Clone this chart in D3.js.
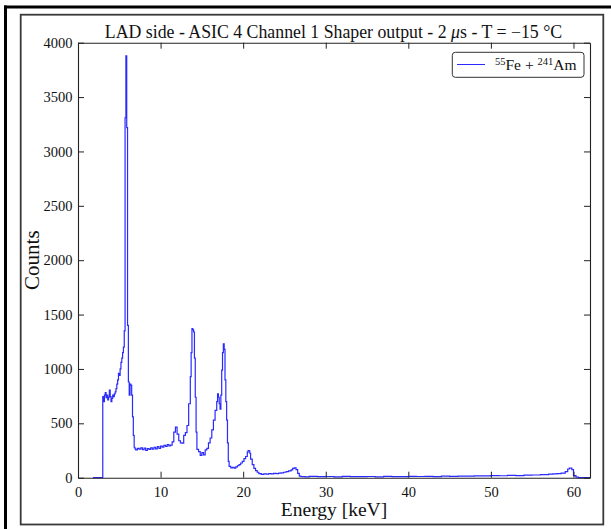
<!DOCTYPE html>
<html>
<head>
<meta charset="utf-8">
<script src="https://cdn.jsdelivr.net/npm/d3@7"></script>
<style>
  html, body { margin: 0; padding: 0; background: #fff; }
  svg { display: block; font-family: "Liberation Serif", "DejaVu Serif", serif; }
</style>
</head>
<body>
<svg id="chart" width="611" height="529"></svg>
<script>
// spectrum: bin start energy (keV) and counts
const energy = [
  1.8, 2.9, 3.0, 3.1, 3.2, 3.3, 3.4, 3.5, 3.6, 3.7, 3.8, 3.9, 4.0, 4.1, 4.2, 4.3, 4.4, 4.5, 4.6, 4.7,
  4.8, 4.9, 5.0, 5.1, 5.2, 5.3, 5.4, 5.5, 5.6, 5.7, 5.8, 5.9, 6.0, 6.1, 6.2, 6.3, 6.4, 6.5, 6.6, 6.7,
  6.8, 6.9, 7.0, 7.2, 7.4, 7.6, 7.8, 8.0, 8.2, 8.4, 8.6, 8.8, 9.0, 9.2, 9.4, 9.6, 9.8, 10.0, 10.2, 10.4,
  10.6, 10.8, 11.0, 11.2, 11.4, 11.6, 11.8, 12.0, 12.2, 12.4, 12.6, 12.8, 13.0, 13.2, 13.4, 13.6, 13.7, 13.8, 13.9, 14.0,
  14.1, 14.2, 14.3, 14.4, 14.6, 14.8, 15.0, 15.2, 15.4, 15.6, 15.8, 16.0, 16.2, 16.4, 16.6, 16.8, 16.9, 17.0, 17.1, 17.2,
  17.3, 17.4, 17.5, 17.6, 17.7, 17.8, 17.9, 18.0, 18.1, 18.2, 18.3, 18.5, 18.7, 18.9, 19.1, 19.3, 19.5, 19.7, 19.9, 20.1,
  20.3, 20.5, 20.6, 20.7, 20.8, 20.9, 21.1, 21.3, 21.5, 21.7, 21.9, 22.2, 22.5, 22.8, 23.1, 23.4, 23.7, 24.0, 24.3, 24.6,
  24.9, 25.2, 25.5, 25.8, 26.0, 26.2, 26.4, 26.6, 26.8, 27.0, 27.5, 28, 29, 30, 31, 32, 33, 34, 35, 36,
  37, 38, 39, 40, 41, 42, 43, 44, 45, 46, 47, 48, 49, 50, 51, 52, 53, 54, 55, 56,
  57, 57.5, 58.0, 58.5, 59.0, 59.3, 59.5, 59.8, 60.0, 60.3, 60.6, 62
];
const counts = [
  0, 0, 745, 700, 760, 782, 735, 760, 715, 740, 805, 745, 700, 730, 760, 745, 770, 790, 820, 860,
  900, 960, 940, 1000, 1060, 1100, 1150, 1200, 1350, 3310, 3880, 3220, 1400, 880, 760, 860, 850, 760, 560, 390,
  280, 265, 255, 270, 262, 275, 258, 272, 250, 268, 260, 275, 262, 280, 265, 285, 270, 290, 282, 298,
  288, 305, 292, 300, 330, 420, 465, 400, 340, 320, 318, 390, 415, 480, 680, 930, 1150, 1370, 1360, 1340,
  1100, 740, 420, 260, 240, 205, 230, 210, 255, 270, 320, 365, 440, 530, 620, 700, 770, 740, 680, 630,
  760, 990, 1150, 1230, 1180, 900, 700, 530, 320, 150, 105, 90, 95, 88, 100, 110, 120, 135, 150, 175,
  195, 235, 250, 248, 225, 170, 120, 85, 65, 50, 38, 30, 35, 33, 38, 36, 40, 38, 42, 45,
  50, 55, 62, 72, 85, 90, 75, 40, 15, 10, 8, 12, 9, 11, 8, 12, 10, 9, 11, 8,
  12, 10, 9, 12, 11, 13, 10, 14, 12, 15, 14, 17, 16, 19, 18, 21, 20, 23, 25, 28,
  32, 35, 38, 42, 55, 80, 88, 75, 20, 5, 0, 0
];
const xTicks = [0, 10, 20, 30, 40, 50, 60];
const yTicks = [0, 500, 1000, 1500, 2000, 2500, 3000, 3500, 4000];

const svg = d3.select("#chart");
const W = 611, H = 529;
const m = { left: 78, right: 590, top: 42.7, bottom: 477.7 };

// page frames (cropped figure look)
svg.append("rect")
  .attr("x", 20.7).attr("y", 14.7)
  .attr("width", 603.3 - 20.7).attr("height", 524.5 - 14.7)
  .attr("fill", "none").attr("stroke", "#3a3a3a").attr("stroke-width", 1.8);
svg.append("line").attr("x1", 4).attr("x2", W).attr("y1", 7).attr("y2", 7)
  .attr("stroke", "#000").attr("stroke-width", 3);
svg.append("line").attr("x1", 5.5).attr("x2", 5.5).attr("y1", 5.5).attr("y2", H)
  .attr("stroke", "#000").attr("stroke-width", 3);

const x = d3.scaleLinear().domain([0, 62]).range([m.left, m.right]);
const y = d3.scaleLinear().domain([0, 4000]).range([m.bottom, m.top]);

const data = energy.map((e, i) => ({ e, c: counts[i] }));

const line = d3.line()
  .x(d => x(d.e))
  .y(d => y(d.c))
  .curve(d3.curveStepAfter);

svg.append("path")
  .datum(data)
  .attr("fill", "none")
  .attr("stroke", "#2a2aff")
  .attr("stroke-width", 1.2)
  .attr("d", line);

// axes with inward ticks on all four sides
const tickLen = 6;
const axisColor = "#222";
const fmt = d3.format("d");
const gBottom = svg.append("g").attr("transform", `translate(0,${m.bottom})`)
  .call(d3.axisBottom(x).tickValues(xTicks).tickFormat(fmt).tickSizeInner(-tickLen).tickSizeOuter(0).tickPadding(8));
const gTop = svg.append("g").attr("transform", `translate(0,${m.top})`)
  .call(d3.axisTop(x).tickValues(xTicks).tickSizeInner(-tickLen).tickSizeOuter(0).tickFormat(""));
const gLeft = svg.append("g").attr("transform", `translate(${m.left},0)`)
  .call(d3.axisLeft(y).tickValues(yTicks).tickFormat(fmt).tickSizeInner(-tickLen).tickSizeOuter(0).tickPadding(5.5));
const gRight = svg.append("g").attr("transform", `translate(${m.right},0)`)
  .call(d3.axisRight(y).tickValues(yTicks).tickSizeInner(-tickLen).tickSizeOuter(0).tickFormat(""));

[gBottom, gTop, gLeft, gRight].forEach(g => {
  g.select(".domain").attr("stroke", axisColor).attr("stroke-width", 1.1);
  g.selectAll(".tick line").attr("stroke", axisColor).attr("stroke-width", 1);
  g.selectAll(".tick text")
    .attr("font-family", "Liberation Serif, serif")
    .attr("font-size", 14.5)
    .attr("fill", "#111");
});
gBottom.selectAll(".tick text").attr("dy", "0.75em");

// title
const title = svg.append("text")
  .attr("x", (m.left + m.right) / 2 - 0.5)
  .attr("y", 38)
  .attr("text-anchor", "middle")
  .attr("font-size", 17.8)
  .attr("fill", "#111");
title.append("tspan").text("LAD side - ASIC 4 Channel 1 Shaper output - 2 ");
title.append("tspan").attr("font-style", "italic").text("μ");
title.append("tspan").text("s - T = \u221215 \u00B0C");

// axis labels
svg.append("text")
  .attr("x", (m.left + m.right) / 2)
  .attr("y", 516)
  .attr("text-anchor", "middle")
  .attr("font-size", 19.5)
  .attr("fill", "#111")
  .text("Energy [keV]");

svg.append("text")
  .attr("transform", `translate(39,${(m.top + m.bottom) / 2}) rotate(-90)`)
  .attr("text-anchor", "middle")
  .attr("font-size", 21)
  .attr("fill", "#111")
  .text("Counts");

// legend
const lg = svg.append("g");
lg.append("rect")
  .attr("x", 452.3).attr("y", 52.3)
  .attr("width", 584 - 452.3).attr("height", 77.3 - 52.3)
  .attr("rx", 3)
  .attr("fill", "#fff").attr("stroke", "#333").attr("stroke-width", 1);
lg.append("line")
  .attr("x1", 457).attr("x2", 485).attr("y1", 64.5).attr("y2", 64.5)
  .attr("stroke", "#2a2aff").attr("stroke-width", 1);
const lt = lg.append("text")
  .attr("x", 495).attr("y", 70)
  .attr("font-size", 15.5)
  .attr("fill", "#111");
lt.append("tspan").attr("font-size", 10.5).attr("dy", -5).text("55");
lt.append("tspan").attr("dy", 5).text("Fe + ");
lt.append("tspan").attr("font-size", 10.5).attr("dy", -5).text("241");
lt.append("tspan").attr("dy", 5).text("Am");
</script>
</body>
</html>
